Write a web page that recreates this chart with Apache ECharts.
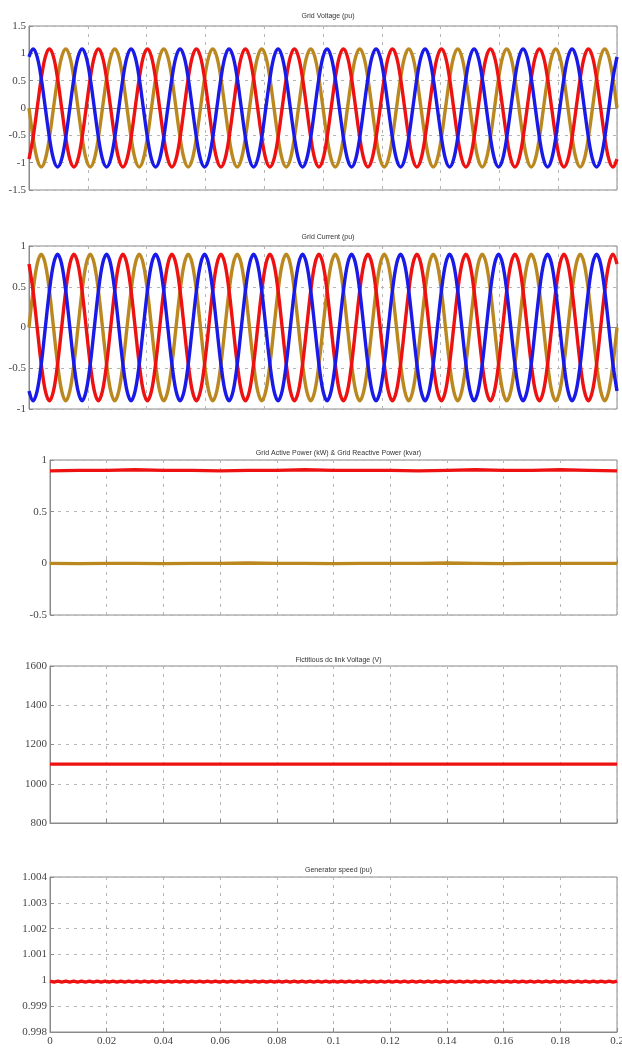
<!DOCTYPE html>
<html><head><meta charset="utf-8">
<script src="https://cdn.jsdelivr.net/npm/echarts@6/dist/echarts.min.js"></script>
<style>html,body{margin:0;padding:0;background:#fff}#c{width:622px;height:1048px}</style>
</head><body><div id="c"></div>
<script>
// ---- Titles ----
const panelTitles = [
  'Grid Voltage (pu)',
  'Grid Current (pu)',
  'Grid Active Power (kW) & Grid Reactive Power (kvar)',
  'Fictitious dc link Voltage (V)',
  'Generator speed (pu)'
];
const timeTicks = ['0','0.02','0.04','0.06','0.08','0.1','0.12','0.14','0.16','0.18','0.2'];

// ---- Waveform samples (one sample every 1/720 s, 0 .. 0.2 s) ----
const waveStep = 1 / 720;
const voltageBlue = [
 0.935,1.08,0.935,0.54,0,-0.54,-0.935,-1.08,-0.935,-0.54,0,0.54,
 0.935,1.08,0.935,0.54,0,-0.54,-0.935,-1.08,-0.935,-0.54,0,0.54,
 0.935,1.08,0.935,0.54,0,-0.54,-0.935,-1.08,-0.935,-0.54,0,0.54,
 0.935,1.08,0.935,0.54,0,-0.54,-0.935,-1.08,-0.935,-0.54,0,0.54,
 0.935,1.08,0.935,0.54,0,-0.54,-0.935,-1.08,-0.935,-0.54,0,0.54,
 0.935,1.08,0.935,0.54,0,-0.54,-0.935,-1.08,-0.935,-0.54,0,0.54,
 0.935,1.08,0.935,0.54,0,-0.54,-0.935,-1.08,-0.935,-0.54,0,0.54,
 0.935,1.08,0.935,0.54,0,-0.54,-0.935,-1.08,-0.935,-0.54,0,0.54,
 0.935,1.08,0.935,0.54,0,-0.54,-0.935,-1.08,-0.935,-0.54,0,0.54,
 0.935,1.08,0.935,0.54,0,-0.54,-0.935,-1.08,-0.935,-0.54,0,0.54,
 0.935,1.08,0.935,0.54,0,-0.54,-0.935,-1.08,-0.935,-0.54,0,0.54,
 0.935,1.08,0.935,0.54,0,-0.54,-0.935,-1.08,-0.935,-0.54,0,0.54,
 0.935];
const voltageRed = [
 -0.935,-0.54,0,0.54,0.935,1.08,0.935,0.54,0,-0.54,-0.935,-1.08,
 -0.935,-0.54,0,0.54,0.935,1.08,0.935,0.54,0,-0.54,-0.935,-1.08,
 -0.935,-0.54,0,0.54,0.935,1.08,0.935,0.54,0,-0.54,-0.935,-1.08,
 -0.935,-0.54,0,0.54,0.935,1.08,0.935,0.54,0,-0.54,-0.935,-1.08,
 -0.935,-0.54,0,0.54,0.935,1.08,0.935,0.54,0,-0.54,-0.935,-1.08,
 -0.935,-0.54,0,0.54,0.935,1.08,0.935,0.54,0,-0.54,-0.935,-1.08,
 -0.935,-0.54,0,0.54,0.935,1.08,0.935,0.54,0,-0.54,-0.935,-1.08,
 -0.935,-0.54,0,0.54,0.935,1.08,0.935,0.54,0,-0.54,-0.935,-1.08,
 -0.935,-0.54,0,0.54,0.935,1.08,0.935,0.54,0,-0.54,-0.935,-1.08,
 -0.935,-0.54,0,0.54,0.935,1.08,0.935,0.54,0,-0.54,-0.935,-1.08,
 -0.935,-0.54,0,0.54,0.935,1.08,0.935,0.54,0,-0.54,-0.935,-1.08,
 -0.935,-0.54,0,0.54,0.935,1.08,0.935,0.54,0,-0.54,-0.935,-1.08,
 -0.935];
const voltageGold = [
 0,-0.54,-0.935,-1.08,-0.935,-0.54,0,0.54,0.935,1.08,0.935,0.54,
 0,-0.54,-0.935,-1.08,-0.935,-0.54,0,0.54,0.935,1.08,0.935,0.54,
 0,-0.54,-0.935,-1.08,-0.935,-0.54,0,0.54,0.935,1.08,0.935,0.54,
 0,-0.54,-0.935,-1.08,-0.935,-0.54,0,0.54,0.935,1.08,0.935,0.54,
 0,-0.54,-0.935,-1.08,-0.935,-0.54,0,0.54,0.935,1.08,0.935,0.54,
 0,-0.54,-0.935,-1.08,-0.935,-0.54,0,0.54,0.935,1.08,0.935,0.54,
 0,-0.54,-0.935,-1.08,-0.935,-0.54,0,0.54,0.935,1.08,0.935,0.54,
 0,-0.54,-0.935,-1.08,-0.935,-0.54,0,0.54,0.935,1.08,0.935,0.54,
 0,-0.54,-0.935,-1.08,-0.935,-0.54,0,0.54,0.935,1.08,0.935,0.54,
 0,-0.54,-0.935,-1.08,-0.935,-0.54,0,0.54,0.935,1.08,0.935,0.54,
 0,-0.54,-0.935,-1.08,-0.935,-0.54,0,0.54,0.935,1.08,0.935,0.54,
 0,-0.54,-0.935,-1.08,-0.935,-0.54,0,0.54,0.935,1.08,0.935,0.54,
 0];
const currentBlue = [
 -0.779,-0.9,-0.779,-0.45,0,0.45,0.779,0.9,0.779,0.45,0,-0.45,
 -0.779,-0.9,-0.779,-0.45,0,0.45,0.779,0.9,0.779,0.45,0,-0.45,
 -0.779,-0.9,-0.779,-0.45,0,0.45,0.779,0.9,0.779,0.45,0,-0.45,
 -0.779,-0.9,-0.779,-0.45,0,0.45,0.779,0.9,0.779,0.45,0,-0.45,
 -0.779,-0.9,-0.779,-0.45,0,0.45,0.779,0.9,0.779,0.45,0,-0.45,
 -0.779,-0.9,-0.779,-0.45,0,0.45,0.779,0.9,0.779,0.45,0,-0.45,
 -0.779,-0.9,-0.779,-0.45,0,0.45,0.779,0.9,0.779,0.45,0,-0.45,
 -0.779,-0.9,-0.779,-0.45,0,0.45,0.779,0.9,0.779,0.45,0,-0.45,
 -0.779,-0.9,-0.779,-0.45,0,0.45,0.779,0.9,0.779,0.45,0,-0.45,
 -0.779,-0.9,-0.779,-0.45,0,0.45,0.779,0.9,0.779,0.45,0,-0.45,
 -0.779,-0.9,-0.779,-0.45,0,0.45,0.779,0.9,0.779,0.45,0,-0.45,
 -0.779,-0.9,-0.779,-0.45,0,0.45,0.779,0.9,0.779,0.45,0,-0.45,
 -0.779];
const currentRed = [
 0.779,0.45,0,-0.45,-0.779,-0.9,-0.779,-0.45,0,0.45,0.779,0.9,
 0.779,0.45,0,-0.45,-0.779,-0.9,-0.779,-0.45,0,0.45,0.779,0.9,
 0.779,0.45,0,-0.45,-0.779,-0.9,-0.779,-0.45,0,0.45,0.779,0.9,
 0.779,0.45,0,-0.45,-0.779,-0.9,-0.779,-0.45,0,0.45,0.779,0.9,
 0.779,0.45,0,-0.45,-0.779,-0.9,-0.779,-0.45,0,0.45,0.779,0.9,
 0.779,0.45,0,-0.45,-0.779,-0.9,-0.779,-0.45,0,0.45,0.779,0.9,
 0.779,0.45,0,-0.45,-0.779,-0.9,-0.779,-0.45,0,0.45,0.779,0.9,
 0.779,0.45,0,-0.45,-0.779,-0.9,-0.779,-0.45,0,0.45,0.779,0.9,
 0.779,0.45,0,-0.45,-0.779,-0.9,-0.779,-0.45,0,0.45,0.779,0.9,
 0.779,0.45,0,-0.45,-0.779,-0.9,-0.779,-0.45,0,0.45,0.779,0.9,
 0.779,0.45,0,-0.45,-0.779,-0.9,-0.779,-0.45,0,0.45,0.779,0.9,
 0.779,0.45,0,-0.45,-0.779,-0.9,-0.779,-0.45,0,0.45,0.779,0.9,
 0.779];
const currentGold = [
 0,0.45,0.779,0.9,0.779,0.45,0,-0.45,-0.779,-0.9,-0.779,-0.45,
 0,0.45,0.779,0.9,0.779,0.45,0,-0.45,-0.779,-0.9,-0.779,-0.45,
 0,0.45,0.779,0.9,0.779,0.45,0,-0.45,-0.779,-0.9,-0.779,-0.45,
 0,0.45,0.779,0.9,0.779,0.45,0,-0.45,-0.779,-0.9,-0.779,-0.45,
 0,0.45,0.779,0.9,0.779,0.45,0,-0.45,-0.779,-0.9,-0.779,-0.45,
 0,0.45,0.779,0.9,0.779,0.45,0,-0.45,-0.779,-0.9,-0.779,-0.45,
 0,0.45,0.779,0.9,0.779,0.45,0,-0.45,-0.779,-0.9,-0.779,-0.45,
 0,0.45,0.779,0.9,0.779,0.45,0,-0.45,-0.779,-0.9,-0.779,-0.45,
 0,0.45,0.779,0.9,0.779,0.45,0,-0.45,-0.779,-0.9,-0.779,-0.45,
 0,0.45,0.779,0.9,0.779,0.45,0,-0.45,-0.779,-0.9,-0.779,-0.45,
 0,0.45,0.779,0.9,0.779,0.45,0,-0.45,-0.779,-0.9,-0.779,-0.45,
 0,0.45,0.779,0.9,0.779,0.45,0,-0.45,-0.779,-0.9,-0.779,-0.45,
 0];
const generatorSpeed = [
 0.99997,0.99993,0.99997,0.99993,0.99997,0.99993,0.99997,0.99993,0.99997,0.99993,0.99997,0.99993,
 0.99997,0.99993,0.99997,0.99993,0.99997,0.99993,0.99997,0.99993,0.99997,0.99993,0.99997,0.99993,
 0.99997,0.99993,0.99997,0.99993,0.99997,0.99993,0.99997,0.99993,0.99997,0.99993,0.99997,0.99993,
 0.99997,0.99993,0.99997,0.99993,0.99997,0.99993,0.99997,0.99993,0.99997,0.99993,0.99997,0.99993,
 0.99997,0.99993,0.99997,0.99993,0.99997,0.99993,0.99997,0.99993,0.99997,0.99993,0.99997,0.99993,
 0.99997,0.99993,0.99997,0.99993,0.99997,0.99993,0.99997,0.99993,0.99997,0.99993,0.99997,0.99993,
 0.99997,0.99993,0.99997,0.99993,0.99997,0.99993,0.99997,0.99993,0.99997,0.99993,0.99997,0.99993,
 0.99997,0.99993,0.99997,0.99993,0.99997,0.99993,0.99997,0.99993,0.99997,0.99993,0.99997,0.99993,
 0.99997,0.99993,0.99997,0.99993,0.99997,0.99993,0.99997,0.99993,0.99997,0.99993,0.99997,0.99993,
 0.99997,0.99993,0.99997,0.99993,0.99997,0.99993,0.99997,0.99993,0.99997,0.99993,0.99997,0.99993,
 0.99997,0.99993,0.99997,0.99993,0.99997,0.99993,0.99997,0.99993,0.99997,0.99993,0.99997,0.99993,
 0.99997,0.99993,0.99997,0.99993,0.99997,0.99993,0.99997,0.99993,0.99997,0.99993,0.99997,0.99993,
 0.99997];

// ---- Slow quantities (one sample every 0.01 s) ----
const slowStep = 0.01;
const activePower =   [0.895,0.9,0.9,0.905,0.9,0.9,0.895,0.9,0.9,0.905,0.9,0.9,0.9,0.895,0.9,0.905,0.9,0.9,0.905,0.9,0.895];
const reactivePower = [0,-0.003,0,0,-0.003,0,0,0.003,0,0,-0.003,0,0,0,0.003,0,-0.003,0,0,0,0];
const dcLinkVoltage = [1100,1100,1100,1100,1100,1100,1100,1100,1100,1100,1100,1100,1100,1100,1100,1100,1100,1100,1100,1100,1100];

// ---- Axis ranges ----
const yRanges = [
  {min: -1.5, max: 1.5, interval: 0.5},
  {min: -1, max: 1, interval: 0.5},
  {min: -0.5, max: 1, interval: 0.5},
  {min: 800, max: 1600, interval: 200},
  {min: 0.998, max: 1.004, interval: 0.001}
];

const RED = '#ee1111', BLUE = '#1a1ae8', GOLD = '#bb8820';
const grids = [
  {left: 29, top: 26, right: 5, height: 164},
  {left: 29, top: 246, right: 5, height: 163},
  {left: 50, top: 460, right: 5, height: 155},
  {left: 50, top: 666, right: 5, height: 157},
  {left: 50, top: 877, right: 5, height: 155}
];
const titleTops = [8, 229, 445, 652, 862];

const toPairs = (arr, step) => arr.map((v, i) => [i * step, v]);
const axisGray = '#8a8a8a';
const serif = 'Liberation Serif';

const option = {
  animation: false,
  backgroundColor: '#fff',
  title: panelTitles.map((t, i) => ({
    text: t,
    left: grids[i].left + (622 - grids[i].left - grids[i].right) / 2,
    top: titleTops[i],
    textAlign: 'center',
    textStyle: {fontSize: 7, fontWeight: 'normal', fontFamily: 'Liberation Sans', color: '#333'}
  })),
  grid: grids.map(g => Object.assign({show: true, borderColor: axisGray, borderWidth: 1, backgroundColor: '#fff', containLabel: false, outerBoundsMode: 'none'}, g)),
  xAxis: grids.map((g, i) => ({
    type: 'value', gridIndex: i, min: 0, max: 0.2, interval: 0.02,
    axisLine: {show: true, lineStyle: {color: axisGray}},
    axisTick: {show: true, inside: true, length: 4, lineStyle: {color: axisGray}},
    splitLine: {show: true, lineStyle: {color: '#b5b5b5', type: [3, 5], width: 1}},
    axisLabel: {
      show: i === 4, margin: 4, fontFamily: serif, fontSize: 11, color: '#444',
      formatter: v => timeTicks[Math.round(v / 0.02)]
    }
  })),
  yAxis: yRanges.map((r, i) => ({
    type: 'value', gridIndex: i, min: r.min, max: r.max, interval: r.interval,
    axisLine: {show: true, lineStyle: {color: axisGray}},
    axisTick: {show: true, inside: true, length: 4, lineStyle: {color: axisGray}},
    splitLine: {show: true, lineStyle: {color: '#b5b5b5', type: [3, 5], width: 1}},
    axisLabel: {
      margin: 3, fontFamily: serif, fontSize: 11, color: '#444',
      formatter: v => String(+v.toFixed(3))
    }
  })),
  series: [
    {data: toPairs(voltageGold, waveStep), color: GOLD, xAxisIndex: 0, yAxisIndex: 0},
    {data: toPairs(voltageRed, waveStep), color: RED, xAxisIndex: 0, yAxisIndex: 0},
    {data: toPairs(voltageBlue, waveStep), color: BLUE, xAxisIndex: 0, yAxisIndex: 0},
    {data: toPairs(currentGold, waveStep), color: GOLD, xAxisIndex: 1, yAxisIndex: 1},
    {data: toPairs(currentRed, waveStep), color: RED, xAxisIndex: 1, yAxisIndex: 1},
    {data: toPairs(currentBlue, waveStep), color: BLUE, xAxisIndex: 1, yAxisIndex: 1},
    {data: toPairs(activePower, slowStep), color: RED, xAxisIndex: 2, yAxisIndex: 2},
    {data: toPairs(reactivePower, slowStep), color: GOLD, xAxisIndex: 2, yAxisIndex: 2},
    {data: toPairs(dcLinkVoltage, slowStep), color: RED, xAxisIndex: 3, yAxisIndex: 3},
    {data: toPairs(generatorSpeed, waveStep), color: RED, xAxisIndex: 4, yAxisIndex: 4}
  ].map(s => Object.assign({
    type: 'line', showSymbol: false, smooth: s.xAxisIndex < 2 ? 0.35 : false,
    lineStyle: {width: 3.4, color: s.color}
  }, s))
};

const chart = echarts.init(document.getElementById('c'), null, {renderer: 'canvas'});
chart.setOption(option);
</script>
</body></html>
